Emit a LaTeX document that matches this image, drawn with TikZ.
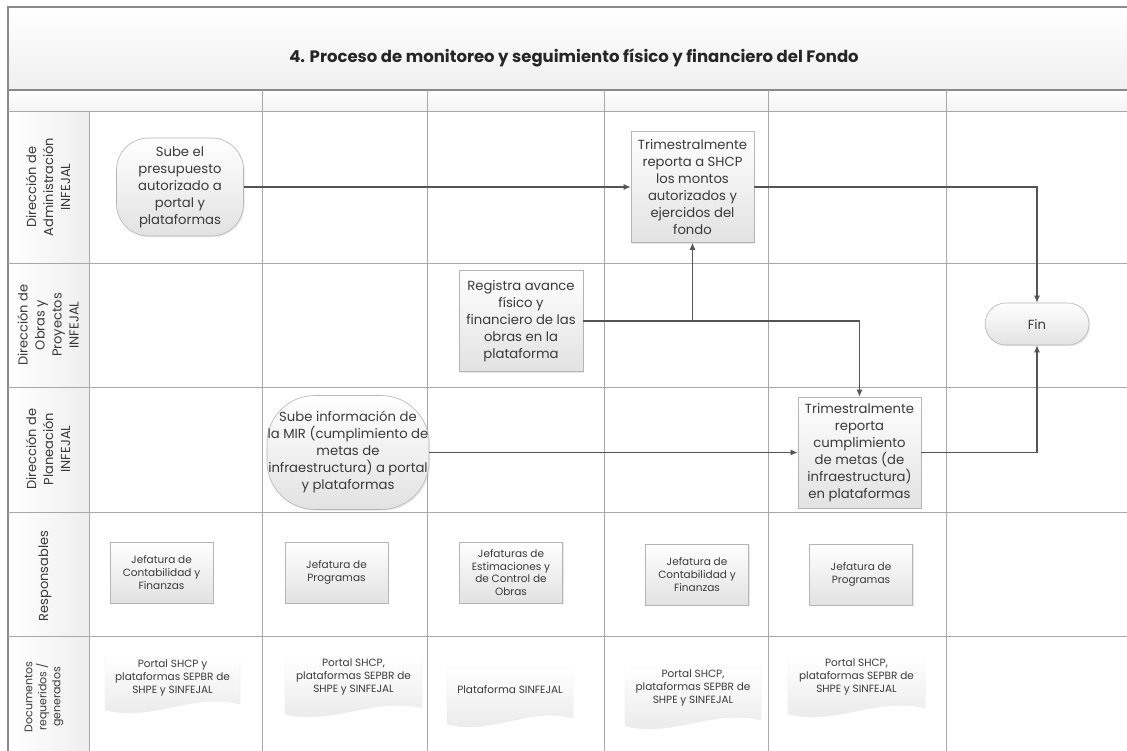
\documentclass[tikz,border=0pt]{standalone}
\usepackage{fontspec}
\setmainfont{Poppins}
\usetikzlibrary{arrows.meta,shadows}

\definecolor{frameline}{HTML}{8A8A8A}
\definecolor{laneline}{HTML}{A8A8A8}
\definecolor{conn}{HTML}{555555}
\definecolor{boxedge}{HTML}{B5B5B5}
\definecolor{boxlow}{HTML}{E2E2E2}
\definecolor{txt}{HTML}{3A3A3A}

\tikzset{
  procbox/.style={draw=boxedge, line width=0.6pt, top color=white, bottom color=boxlow,
    drop shadow={shadow xshift=1.2pt, shadow yshift=-1.2pt, opacity=0.18},
    inner sep=0pt, align=center, text=txt, font=\fontsize{13.2}{17}\selectfont},
  roundproc/.style={procbox, rounded corners=32pt},
  respbox/.style={procbox, font=\fontsize{10.5}{12.8}\selectfont,
    minimum width=103pt, minimum height=61pt},
  docfill/.style={draw=gray!15, line width=0.4pt, top color=white, bottom color=gray!18},
  doctext/.style={align=center, text=txt, font=\fontsize{10.5}{12.6}\selectfont, inner sep=0pt},
  lanelabel/.style={rotate=90, align=center, text=txt, font=\fontsize{13}{17}\selectfont, inner sep=0pt},
  flow/.style={draw=conn, line width=1.1pt, -{Latex[length=7pt,width=6pt]}},
  link/.style={draw=conn, line width=1.1pt},
  gridline/.style={draw=laneline, line width=0.8pt},
}

% document shape with a wavy lower edge: x1, y1 (top), x2, y2 (lower edge at the left)
\newcommand{\docpaper}[4]{%
  \pgfmathsetmacro{\dA}{#1+0.35*(#3-#1)}%
  \pgfmathsetmacro{\dB}{#1+0.65*(#3-#1)}%
  \path[docfill] (#1,#2) -- (#3,#2) -- (#3,#4-6)
    .. controls (\dB,#4-18) and (\dA,#4+12) .. (#1,#4) -- cycle;
}

\begin{document}
\begin{tikzpicture}[x=1pt, y=-1pt]
\useasboundingbox (0,0) rectangle (1127,750);
\fill[white] (0,0) rectangle (1127,750);

% title band, header row and label column
\fill[top color=white, bottom color=gray!12] (8,7) rectangle (1140,90);
\fill[top color=white, bottom color=gray!9] (8,90) rectangle (1140,111);
\fill[left color=white, right color=gray!13] (8,111) rectangle (89,752);

% pool frame and lane separators
\draw[frameline, line width=1.3pt] (8,752) -- (8,7) -- (1140,7);
\draw[frameline, line width=1.2pt] (8,90) -- (1140,90);
\draw[gridline] (8,111) -- (1140,111);
\foreach \yy in {263,387,512,636} \draw[gridline] (8,\yy) -- (1140,\yy);
\draw[gridline] (89,111) -- (89,752);
\foreach \xx in {262,427,604,768,946} \draw[gridline] (\xx,90) -- (\xx,752);

\node[font=\fontsize{16.5}{18}\selectfont\bfseries, text=black!85] (title) at (574,58)
  {4. Proceso de monitoreo y seguimiento físico y financiero del Fondo};

% lane labels
\node[lanelabel] (l1) at (48,187) {Dirección de\\Administración\\INFEJAL};
\node[lanelabel] (l2) at (48,325) {Dirección de\\Obras y\\Proyectos\\INFEJAL};
\node[lanelabel] (l3) at (48,449) {Dirección de\\Planeación\\INFEJAL};
\node[lanelabel] (l4) at (45,576) {Responsables};
\node[lanelabel, font=\fontsize{11}{14}\selectfont] (l5) at (44,697) {Documentos\\requeridos /\\generados};

% process steps
\node[roundproc, minimum width=127pt, minimum height=98pt] (n1) at (180,187)
  {Sube el\\presupuesto\\autorizado a\\portal y\\plataformas};
\node[procbox, minimum width=123pt, minimum height=111pt] (n2) at (692.5,187)
  {Trimestralmente\\reporta a SHCP\\los montos\\autorizados y\\ejercidos del\\fondo};
\node[procbox, minimum width=124pt, minimum height=101pt] (n3) at (521,321)
  {Registra avance\\físico y\\financiero de las\\obras en la\\plataforma};
\node[roundproc, rounded corners=48pt, minimum width=162pt, minimum height=114pt] (n4) at (348,452.5)
  {Sube información de\\la MIR (cumplimiento de\\metas de\\infraestructura) a portal\\y plataformas};
\node[procbox, minimum width=123pt, minimum height=111pt] (n5) at (859.5,452.5)
  {Trimestralmente\\reporta\\cumplimiento\\de metas (de\\infraestructura)\\en plataformas};
\node[procbox, rounded corners=21pt, minimum width=104pt, minimum height=42pt] (fin) at (1037,324) {Fin};

% flow connectors
\draw[flow] (n1.east) -- (n2.west);
\draw[flow] (n2.east) -| (fin.north);
\draw[flow] (n3.east) -| (n2.south);
\draw[flow] (n3.east) -| (n5.north);
\draw[flow] (n4.east) -- (n5.west);
\draw[flow] (n5.east) -| (fin.south);

% responsible units
\node[respbox] (r1) at (161.5,572.5) {Jefatura de\\Contabilidad y\\Finanzas};
\node[respbox] (r2) at (336.5,572.5) {Jefatura de\\Programas};
\node[respbox] (r3) at (511,572.5) {Jefaturas de\\Estimaciones y\\de Control de\\Obras};
\node[respbox] (r4) at (697,574.5) {Jefatura de\\Contabilidad y\\Finanzas};
\node[respbox] (r5) at (861,574.5) {Jefatura de\\Programas};

% documents
\docpaper{105}{658}{240}{710}
\docpaper{285}{658}{422}{714}
\docpaper{447}{668}{573}{724}
\docpaper{625}{668}{761}{726}
\docpaper{788}{658}{925}{714}
\node[doctext] (d1) at (172.5,678) {Portal SHCP y\\plataformas SEPBR de\\SHPE y SINFEJAL};
\node[doctext] (d2) at (353.5,677) {Portal SHCP,\\plataformas SEPBR de\\SHPE y SINFEJAL};
\node[doctext] (d3) at (510,690) {Plataforma SINFEJAL};
\node[doctext] (d4) at (693,688) {Portal SHCP,\\plataformas SEPBR de\\SHPE y SINFEJAL};
\node[doctext] (d5) at (856.5,677) {Portal SHCP,\\plataformas SEPBR de\\SHPE y SINFEJAL};
\end{tikzpicture}
\end{document}
